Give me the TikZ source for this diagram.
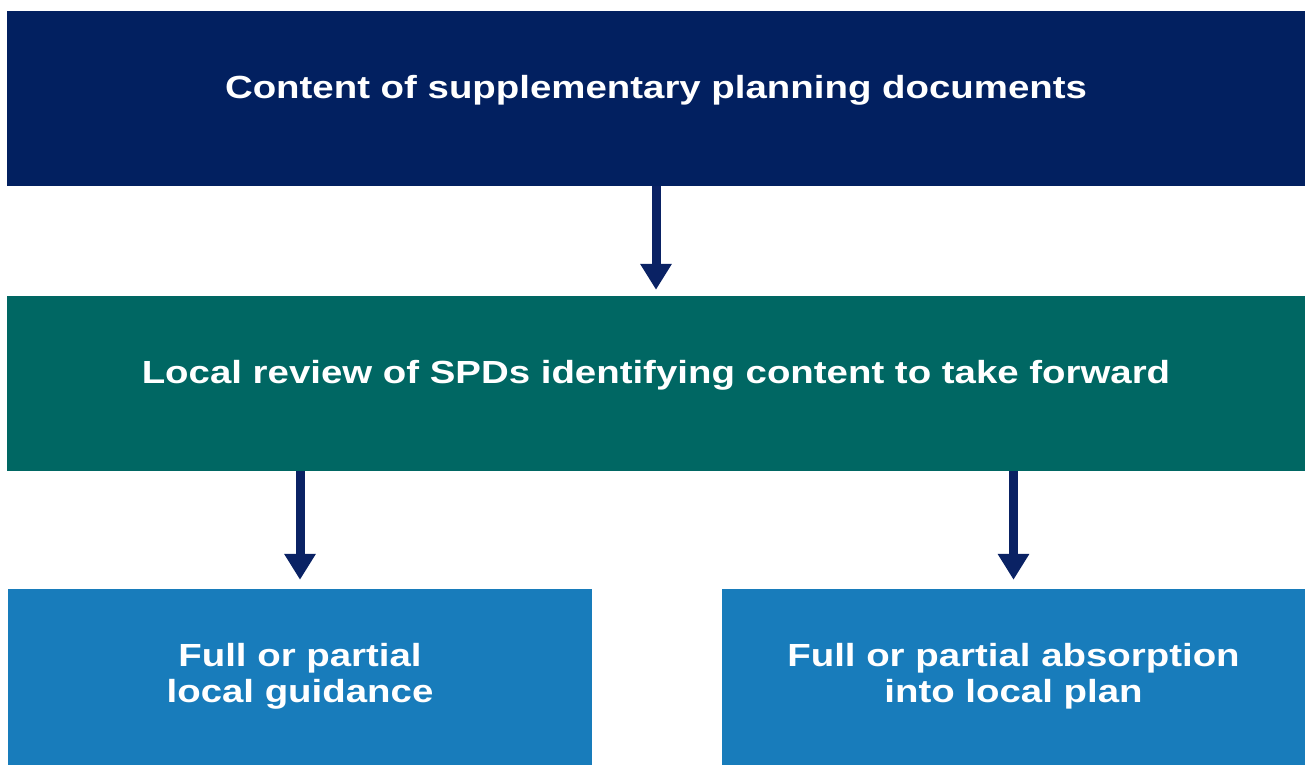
\documentclass[tikz,border=0pt]{standalone}
\usepackage{fontspec}
\newfontfamily\boxfont{Liberation Sans}[FakeStretch=1.2]
\usetikzlibrary{arrows.meta}
\definecolor{navybox}{RGB}{2,32,96}
\definecolor{tealbox}{RGB}{0,103,99}
\definecolor{bluebox}{RGB}{24,124,187}
\definecolor{arrownavy}{RGB}{10,34,100}
\newcommand{\twolines}[2]{\raisebox{4pt}{\begin{tabular}{@{}c@{}}#1\\#2\end{tabular}}}
\tikzset{
  box/.style={rectangle, inner sep=0pt, draw=none, text=white,
    font=\boxfont\bfseries\fontsize{32}{36}\selectfont, align=center},
  flowarrow/.style={draw=arrownavy, line width=9pt,
    -{Triangle[width=30pt,length=26pt]}}
}
\begin{document}
\begin{tikzpicture}[x=1pt,y=-1pt]
\useasboundingbox (0,0) rectangle (1306,765);
\node[box, fill=navybox, minimum width=1298pt, minimum height=175pt,
      text height=11pt, text depth=11pt] (top) at (656,98.5)
  {Content of supplementary planning documents};
\node[box, fill=tealbox, minimum width=1298pt, minimum height=175pt,
      text height=11pt, text depth=11pt] (mid) at (656,383.5)
  {Local review of SPDs identifying content to take forward};
\node[box, fill=bluebox, minimum width=584pt, minimum height=176pt] (left) at (300,677)
  {\twolines{Full or partial}{local guidance}};
\node[box, fill=bluebox, minimum width=583pt, minimum height=176pt] (right) at (1013.5,677)
  {\twolines{Full or partial absorption}{into local plan}};
\draw[flowarrow, shorten >=6pt] (top.south) -- (mid.north);
\draw[flowarrow, shorten >=9pt] (mid.south -| left.north) -- (left.north);
\draw[flowarrow, shorten >=9pt] (mid.south -| right.north) -- (right.north);
\end{tikzpicture}
\end{document}
